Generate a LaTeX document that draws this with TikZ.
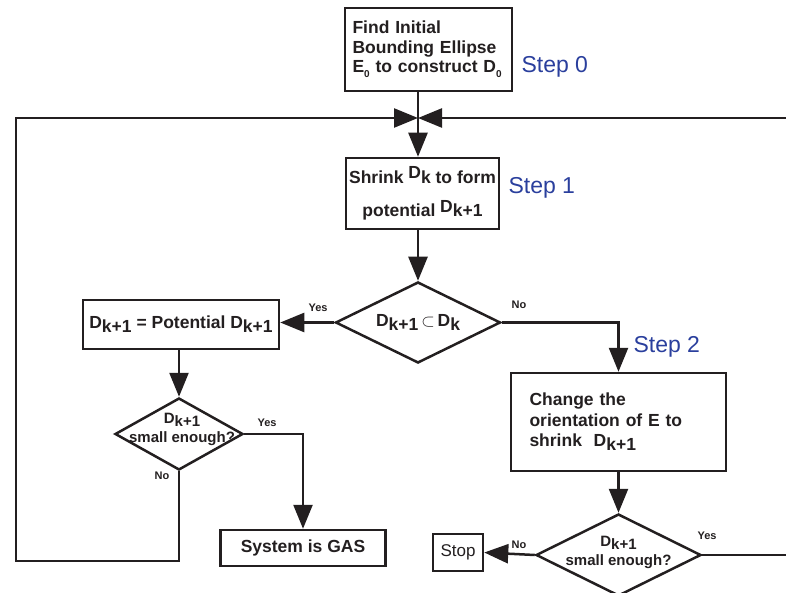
\documentclass[tikz,border=0pt]{standalone}
\usepackage{fontspec}
\setmainfont{Liberation Sans}
\usepackage{tikz}
\usetikzlibrary{arrows.meta,shapes.geometric,calc}
\definecolor{stepblue}{HTML}{2A3F9D}
\definecolor{inkgrey}{HTML}{231F20}
\newcommand{\Dsub}[1]{D\raisebox{-0.45ex}{#1}}
\newcommand{\zsub}[1]{\raisebox{-0.5ex}{\fontsize{10}{10}\selectfont #1}}

\begin{document}
\begin{tikzpicture}[x=1pt, y=-1pt, text=inkgrey,
  font=\bfseries\fontsize{17.5}{19.5}\selectfont,
  flowbox/.style={draw=inkgrey, line width=2.5pt, inner sep=0pt},
  decision/.style={diamond, draw=inkgrey, line width=2.5pt, inner sep=0pt},
  flowline/.style={draw=inkgrey, line width=2.5pt},
  flowarrow/.style={flowline, -{Triangle[length=24pt,width=19pt]}},
  steplabel/.style={anchor=west, text=stepblue, font=\fontsize{23}{26}\selectfont},
  yesno/.style={font=\bfseries\fontsize{11}{12}\selectfont},
  smalltxt/.style={align=center, font=\bfseries\fontsize{15}{19}\selectfont}]
\useasboundingbox (0,0) rectangle (786,593);

% loop junction and ends at the edge
\coordinate (merge) at (418,118);
\coordinate (lpbl) at (16,561);
\coordinate (rtop) at (790,118);
\coordinate (rbot) at (790,555);

\node[flowbox, minimum width=167pt, minimum height=83pt, text width=152pt, align=left]
  (init) at (428.5,49.5) {Find Initial\\Bounding Ellipse\\E\zsub{0} to construct D\zsub{0}};
\node[steplabel] (step0) at (518,67) {Step 0};

\node[flowbox, minimum width=153pt, minimum height=71pt, align=center]
  (shrink) at (422.5,193.5)
  {Shrink \raisebox{0.45ex}{\Dsub{k}} to form\\[14pt]potential \raisebox{0.45ex}{\Dsub{k+1}}};
\node[steplabel] (step1) at (505,188) {Step 1};

\node[decision, minimum width=165pt, minimum height=81pt] (incl) at (418,322.5) {};
\node[font=\bfseries\fontsize{17.5}{19}\selectfont] (incltxt) at (incl)
  {\Dsub{k+1}\,$\subset$\,\Dsub{k}};

\node[flowbox, minimum width=196pt, minimum height=49pt] (accept) at (181,324.5)
  {\Dsub{k+1} = Potential \Dsub{k+1}};

\node[decision, minimum width=128pt, minimum height=72pt] (small1) at (179,434) {};
\node[smalltxt, yshift=5pt, xshift=3pt] (small1txt) at (small1) {\Dsub{k+1}\\small enough?};

\node[flowbox, minimum width=165pt, minimum height=36pt,
  font=\bfseries\fontsize{17.5}{20}\selectfont] (gas) at (303,548) {System is GAS};

\node[steplabel] (step2) at (630,347) {Step 2};
\node[flowbox, minimum width=215pt, minimum height=98pt, text width=178pt, align=left,
  font=\bfseries\fontsize{17.5}{20.5}\selectfont]
  (reorient) at (618.5,422) {Change the\\orientation of E to\\shrink\ \ \Dsub{k+1}};

\node[decision, minimum width=165pt, minimum height=82pt] (small2) at (618.5,555) {};
\node[smalltxt, yshift=3pt] (small2txt) at (small2) {\Dsub{k+1}\\small enough?};

\node[flowbox, minimum width=50pt, minimum height=37pt,
  font=\fontsize{17}{20}\selectfont] (stop) at (458,552.5) {Stop};

% connectors
\draw[flowline] (init.south -| merge) -- (merge);
\draw[flowarrow] (merge) -- (merge |- shrink.north);
\draw[flowarrow] (rtop) -- (merge);
\draw[flowarrow] (small1.south) |- (lpbl) |- (merge);
\draw[flowarrow] (incl.north |- shrink.south) -- (incl.north);
\draw[flowarrow] (incl.west) -- (incl.west -| accept.east);
\draw[flowarrow] (incl.east) -| (reorient.north);
\draw[flowarrow] (small1.north |- accept.south) -- (small1.north);
\draw[flowarrow] (small1.east) -| (gas.north);
\draw[flowarrow] (reorient.south) -- (small2.north);
\draw[flowarrow] (small2.west) -- (stop.east);
\draw[flowline] (small2.east) -- (rbot);

\node[yesno] (yes1) at (318,308) {Yes};
\node[yesno] (no1) at (519,305) {No};
\node[yesno] (yes2) at (267,423) {Yes};
\node[yesno] (no2) at (162,476) {No};
\node[yesno] (no3) at (519,545) {No};
\node[yesno] (yes3) at (707,536) {Yes};
\end{tikzpicture}
\end{document}
